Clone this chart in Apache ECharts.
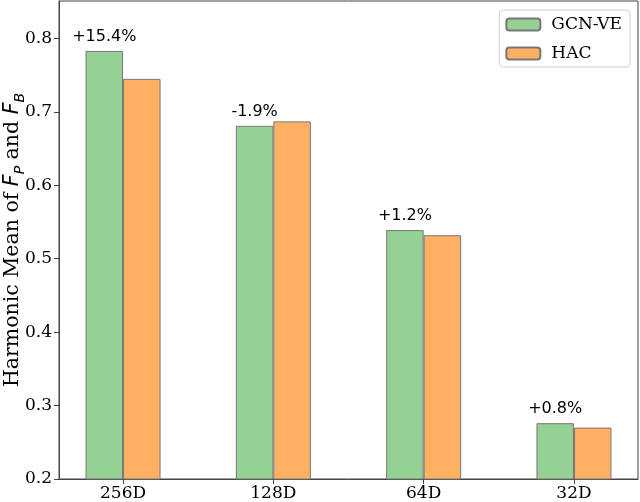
<!DOCTYPE html>
<html>
<head>
<meta charset="utf-8">
<script src="https://cdn.jsdelivr.net/npm/echarts@6/dist/echarts.min.js"></script>
<style>html,body{margin:0;padding:0;background:#fff}#c{width:640px;height:502px}</style>
</head>
<body>
<div id="c"></div>
<script>
const categories = ['256D', '128D', '64D', '32D'];
const gcnVE = [0.783, 0.681, 0.539, 0.276];
const hac = [0.745, 0.687, 0.532, 0.270];
const gainLabels = ['+15.4%', '-1.9%', '+1.2%', '+0.8%'];
const yTicks = [0.2, 0.3, 0.4, 0.5, 0.6, 0.7, 0.8];

const serif = 'DejaVu Serif';
const chart = echarts.init(document.getElementById('c'), null, {renderer: 'canvas'});
const catIdx = categories.map((_, i) => i);

chart.setOption({
  animation: false,
  grid: {left: 59, right: 2, top: 1, bottom: 23, outerBoundsMode: 'none', containLabel: false,
         show: true, borderColor: '#444', borderWidth: 1, backgroundColor: 'transparent'},
  legend: {
    orient: 'vertical', right: 10, top: 10,
    itemWidth: 34, itemHeight: 12, itemGap: 12,
    padding: [6, 8, 5, 6],
    borderColor: '#d0d0d0', borderWidth: 1, borderRadius: 4,
    textStyle: {fontFamily: serif, fontSize: 17, color: '#000', padding: [0, 0, 0, 6]},
    data: ['GCN-VE', 'HAC']
  },
  xAxis: {
    type: 'value', min: -0.426, max: 3.426,
    splitLine: {show: false},
    axisLine: {show: true, onZero: false, lineStyle: {color: '#444'}},
    axisTick: {show: true, length: 5, lineStyle: {color: '#444'}, customValues: catIdx},
    axisLabel: {customValues: catIdx, formatter: v => categories[Math.round(v)], fontFamily: serif, fontSize: 17, color: '#000', margin: 6}
  },
  yAxis: {
    type: 'value', min: 0.2, max: 0.851, interval: 0.1,
    splitLine: {show: false},
    axisLine: {show: true, onZero: false, lineStyle: {color: '#444'}},
    axisTick: {show: true, length: 5, lineStyle: {color: '#444'}, customValues: yTicks},
    axisLabel: {customValues: yTicks, formatter: v => v.toFixed(1), fontFamily: serif, fontSize: 17, color: '#000', margin: 7},
    name: '{t|Harmonic Mean of }{it|F}{sub|P}{t| and }{it|F}{sub|B}',
    nameLocation: 'middle', nameRotate: 90, nameGap: 36, nameMoveOverlap: false,
    nameTextStyle: {
      rich: {
        t: {fontFamily: serif, fontSize: 20.5, color: '#000', lineHeight: 26, verticalAlign: 'bottom'},
        it: {fontFamily: 'DejaVu Sans', fontStyle: 'italic', fontSize: 20.5, color: '#000', lineHeight: 26, verticalAlign: 'bottom'},
        sub: {fontFamily: 'DejaVu Sans', fontStyle: 'italic', fontSize: 14, color: '#000', lineHeight: 20, verticalAlign: 'bottom', padding: [0, 0, -4, 0]}
      }
    }
  },
  series: [
    {
      name: 'GCN-VE', type: 'bar', barWidth: 37.5, barGap: '0%',
      data: gcnVE.map((v, i) => [i, v]),
      itemStyle: {color: '#95d194', borderColor: '#777', borderWidth: 1},
      label: {show: true, position: 'top', distance: 6, formatter: p => gainLabels[p.dataIndex], fontFamily: 'DejaVu Sans', fontSize: 16, color: '#000'}
    },
    {
      name: 'HAC', type: 'bar', barWidth: 37.5, barGap: '0%',
      data: hac.map((v, i) => [i, v]),
      itemStyle: {color: '#ffb062', borderColor: '#777', borderWidth: 1}
    }
  ]
});
</script>
</body>
</html>
